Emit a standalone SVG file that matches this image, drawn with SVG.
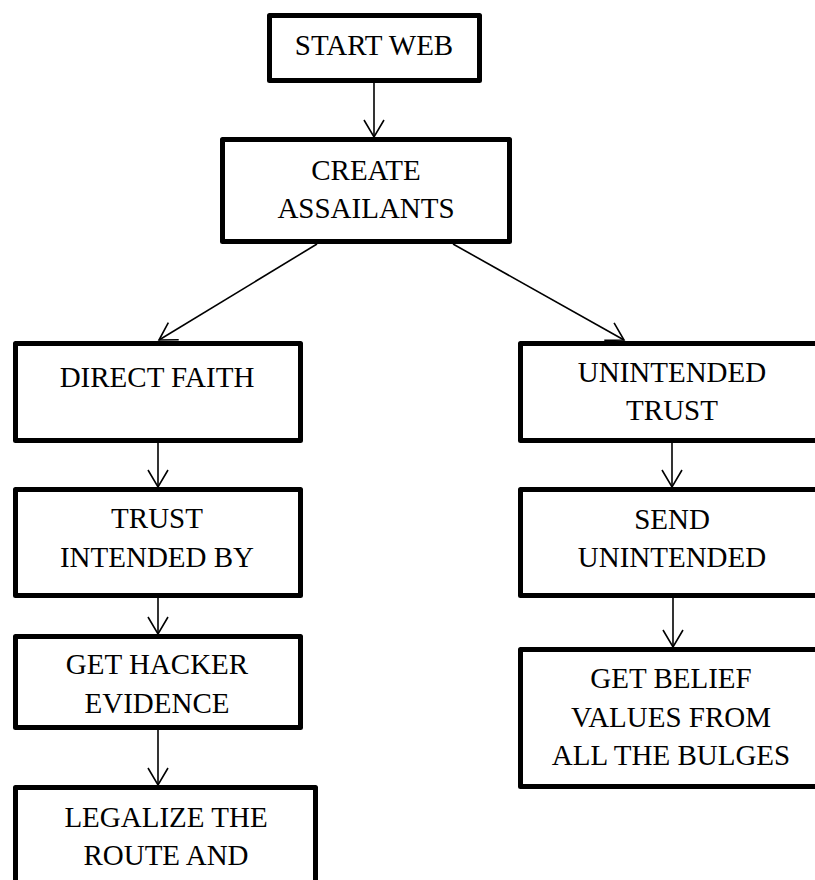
<svg xmlns="http://www.w3.org/2000/svg" width="815" height="880" viewBox="0 0 815 880">
<style>
.box{fill:#fff;stroke:#000;stroke-width:5;stroke-linejoin:round}
.lbl{font-family:"Liberation Serif","Times New Roman",serif;font-size:29px;fill:#000;text-anchor:middle}
.edge{stroke:#000;stroke-width:1.6;fill:none}
</style>
<defs>
<marker id="arr" markerUnits="userSpaceOnUse" viewBox="-20 -12 22 24" refX="0" refY="0" markerWidth="22" markerHeight="24" orient="auto" overflow="visible">
<path d="M-17,-10 L0,0 L-17,10" fill="none" stroke="#000" stroke-width="1.6"/>
</marker>
</defs>
<rect width="815" height="880" fill="#fff"/>
<g id="connectors">
<line class="edge" x1="374" y1="83" x2="374" y2="137" marker-end="url(#arr)"/>
<line class="edge" x1="317" y1="244" x2="159" y2="340" marker-end="url(#arr)"/>
<line class="edge" x1="453" y1="244" x2="624" y2="340" marker-end="url(#arr)"/>
<line class="edge" x1="158" y1="443" x2="158" y2="487" marker-end="url(#arr)"/>
<line class="edge" x1="158" y1="598" x2="158" y2="634" marker-end="url(#arr)"/>
<line class="edge" x1="158" y1="730" x2="158" y2="785" marker-end="url(#arr)"/>
<line class="edge" x1="672" y1="443" x2="672" y2="487" marker-end="url(#arr)"/>
<line class="edge" x1="673" y1="598" x2="673" y2="647" marker-end="url(#arr)"/>
</g>
<g id="start-web">
<rect class="box" x="269.5" y="15.5" width="210" height="65"/>
<text class="lbl" x="374" y="55">START WEB</text>
</g>
<g id="create-assailants">
<rect class="box" x="222.5" y="139.5" width="287" height="102"/>
<text class="lbl" x="366" y="180">CREATE</text>
<text class="lbl" x="366" y="218">ASSAILANTS</text>
</g>
<g id="direct-faith">
<rect class="box" x="15.5" y="343.5" width="285" height="97"/>
<text class="lbl" x="157" y="387">DIRECT FAITH</text>
</g>
<g id="trust-intended-by">
<rect class="box" x="15.5" y="489.5" width="285" height="106"/>
<text class="lbl" x="157" y="528">TRUST</text>
<text class="lbl" x="157" y="567">INTENDED BY</text>
</g>
<g id="get-hacker-evidence">
<rect class="box" x="15.5" y="636.5" width="285" height="91"/>
<text class="lbl" x="157" y="674">GET HACKER</text>
<text class="lbl" x="157" y="713">EVIDENCE</text>
</g>
<g id="legalize-route">
<rect class="box" x="15.5" y="787.5" width="300" height="130"/>
<text class="lbl" x="166" y="827">LEGALIZE THE</text>
<text class="lbl" x="166" y="865">ROUTE AND</text>
</g>
<g id="unintended-trust">
<rect class="box" x="520.5" y="343.5" width="305" height="97"/>
<text class="lbl" x="672" y="382">UNINTENDED</text>
<text class="lbl" x="672" y="420">TRUST</text>
</g>
<g id="send-unintended">
<rect class="box" x="520.5" y="489.5" width="305" height="106"/>
<text class="lbl" x="672" y="529">SEND</text>
<text class="lbl" x="672" y="567">UNINTENDED</text>
</g>
<g id="get-belief-values">
<rect class="box" x="520.5" y="649.5" width="305" height="137"/>
<text class="lbl" x="671" y="688">GET BELIEF</text>
<text class="lbl" x="671" y="727">VALUES FROM</text>
<text class="lbl" x="671" y="765">ALL THE BULGES</text>
</g>
</svg>
